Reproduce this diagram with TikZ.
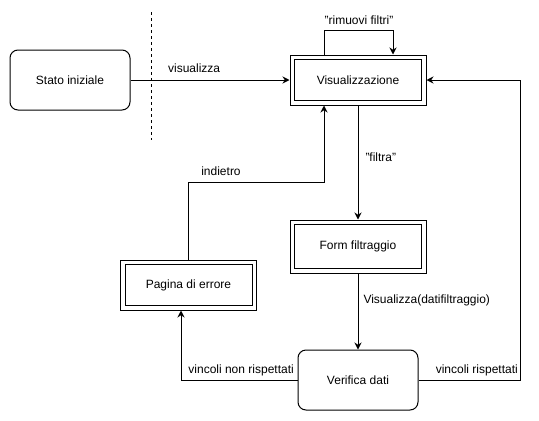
\documentclass[tikz,border=0pt]{standalone}
\usepackage{fontspec}
\setmainfont{Liberation Sans}
\usetikzlibrary{arrows.meta,positioning}
\begin{document}
\begin{tikzpicture}[x=1pt,y=-1pt,
  every node/.style={font=\fontsize{12}{14}\selectfont},
  line/.style={draw=black,line width=1pt},
  arr/.style={line,-{Stealth[length=7pt,width=7pt]}},
  roundbox/.style={draw,line width=1pt,rounded corners=8pt,minimum width=120pt,minimum height=60pt,inner sep=0pt},
  dblbox/.style={draw,line width=1pt,minimum width=136pt,minimum height=50pt,inner sep=0pt},
  lbl/.style={inner sep=1pt}
]
\useasboundingbox (0,0) rectangle (539,421);
\node[roundbox] (start) at (70,80) {Stato iniziale};
\node[dblbox] (vis) at (358,80) {Visualizzazione};
\node[dblbox, minimum height=53pt] (form) at (358,246.5) {Form filtraggio};
\node[dblbox] (err) at (188.5,285) {Pagina di errore};
\node[roundbox] (ver) at (358,380) {Verifica dati};
\foreach \n in {vis,form,err}
  \draw[line] ([xshift=5pt,yshift=-5pt]\n.north west) rectangle ([xshift=-5pt,yshift=5pt]\n.south east);

\coordinate (d1) at (151,12);
\coordinate (d2) at (151,140);
\draw[line,dash pattern=on 3pt off 3pt] (d1) -- (d2);

\draw[arr] (start.east) -- (vis.west) node[lbl,pos=0.4,above=6pt] {visualizza};
% self loop
\coordinate (l1) at (324,30);
\coordinate (l2) at (393,30);
\draw[arr] (vis.north -| l1) -- (l1) -- (l2) -- (vis.north -| l2);
\node[lbl] (rlab) at (359,20) {\symbol{34}rimuovi filtri\symbol{34}};
% filtra
\draw[arr] (vis.south) -- (form.north) node[lbl,pos=0.45,right=6pt] {\symbol{34}filtra\symbol{34}};
% visualizza dati
\draw[arr] (form.south) -- (ver.north) node[lbl,pos=0.35,right=4pt] {Visualizza(datifiltraggio)};
% indietro
\coordinate (i1) at (188.5,182);
\coordinate (i2) at (324,182);
\draw[arr] (err.north) -- (i1) -- (i2) -- (vis.south -| i2);
\node[lbl] (ilab) at (221,171) {indietro};
% vincoli non rispettati
\coordinate (n1) at (181,380);
\draw[arr] (ver.west) -- (n1) -- (err.south -| n1);
\node[lbl,anchor=south east] (nlab) at (295,377) {vincoli non rispettati};
% vincoli rispettati
\coordinate (r1) at (520,380);
\coordinate (r2) at (520,80);
\draw[arr] (ver.east) -- (r1) -- (r2) -- (vis.east);
\node[lbl,anchor=south east] (rlab2) at (519,377) {vincoli rispettati};
\end{tikzpicture}
\end{document}
